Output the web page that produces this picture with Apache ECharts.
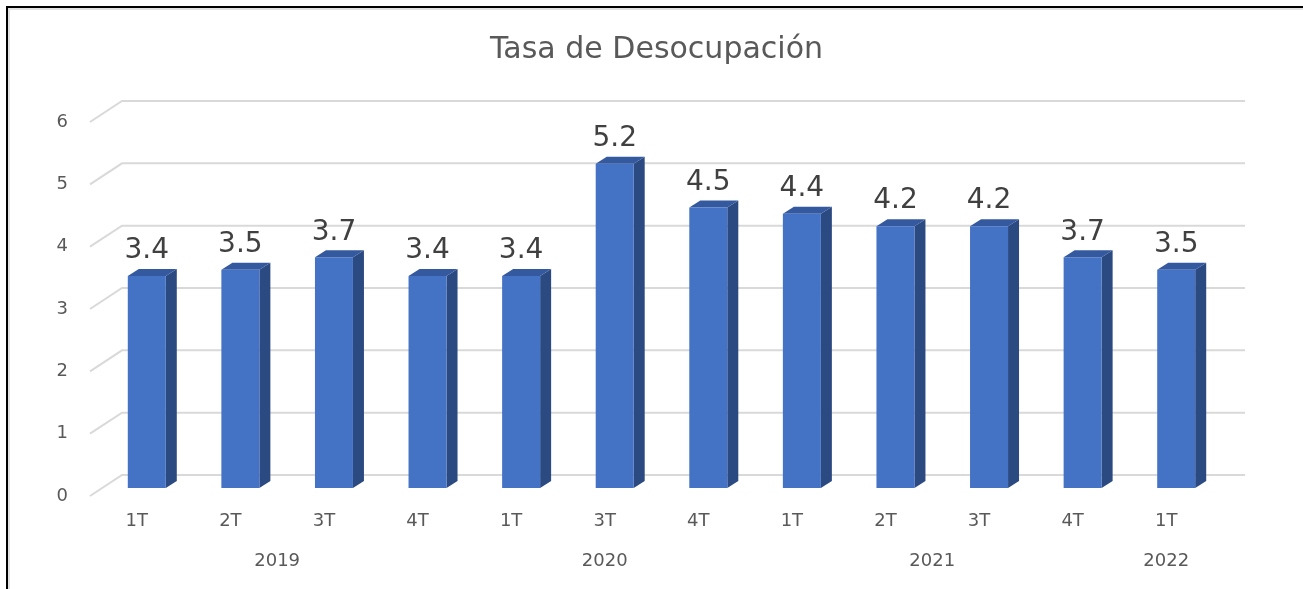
<!DOCTYPE html>
<html><head><meta charset="utf-8">
<script src="https://cdn.jsdelivr.net/npm/echarts@6/dist/echarts.min.js"></script>
<style>
html,body{margin:0;padding:0;background:#fff;}
#c{position:absolute;left:0;top:0;width:1303px;height:589px;}
#frame{position:absolute;left:6px;top:6px;width:1297px;height:583px;border-top:2px solid #000;border-left:2px solid #000;box-shadow:inset 2px 2px 0 #e2e2e2;pointer-events:none;box-sizing:border-box;}
</style></head>
<body><div id="c"></div><div id="frame"></div>
<script>
const quarters = ['1T','2T','3T','4T','1T','3T','4T','1T','2T','3T','4T','1T'];
const years    = ['2019','2019','2019','2019','2020','2020','2020','2021','2021','2021','2021','2022'];
const values   = [3.4, 3.5, 3.7, 3.4, 3.4, 5.2, 4.5, 4.4, 4.2, 4.2, 3.7, 3.5];
const yTicks   = [0, 1, 2, 3, 4, 5, 6];

// build year axis slots (2 slots per category, boundaryGap false)
const yearSlots = new Array(quarters.length * 2 + 1).fill('');
const seen = {};
years.forEach((y, i) => { if (!(y in seen)) seen[y] = [i, i]; else seen[y][1] = i; });
Object.keys(seen).forEach(y => { const [a, b] = seen[y]; yearSlots[a + b + 1] = y; });

const FONT = 'DejaVu Sans';
const DX = 32, DY = 21;           // full depth of the floor
const FX = 10, FY = 8;            // depth of bar front face
const SX = 11, SY = 7;            // bar depth

const chart = echarts.init(document.getElementById('c'), null, {renderer: 'canvas'});
chart.setOption({
  animation: false,
  backgroundColor: '#fff',
  title: {
    text: 'Tasa de Desocupación', left: 490, top: 35, padding: 0,
    textStyle: {fontFamily: FONT, fontSize: 30, fontWeight: 'normal', color: '#595959'}
  },
  grid: {left: 90, right: 90, top: 122, bottom: 93},
  xAxis: [{
    type: 'category', data: quarters, position: 'bottom',
    axisLine: {show: false}, axisTick: {show: false},
    axisLabel: {margin: 16, fontFamily: FONT, fontSize: 18, color: '#595959', interval: 0}
  }, {
    type: 'category', data: yearSlots, position: 'bottom', offset: 40, boundaryGap: false,
    axisLine: {show: false}, axisTick: {show: false},
    axisLabel: {margin: 16, fontFamily: FONT, fontSize: 18, color: '#595959', interval: 0, showMinLabel: true, showMaxLabel: true}
  }],
  yAxis: {
    type: 'value', min: 0, max: 6, interval: 1,
    axisLine: {show: false}, axisTick: {show: false}, splitLine: {show: false},
    axisLabel: {margin: 22, fontFamily: FONT, fontSize: 18, color: '#595959'}
  },
  series: [{
    type: 'custom', silent: true, z: 1,
    data: yTicks.map(v => [0, v]),
    renderItem: function (params, api) {
      const cs = params.coordSys;
      const y = api.coord([0, api.value(1)])[1];
      return {
        type: 'polyline',
        shape: {points: [[cs.x, y], [cs.x + DX, y - DY], [cs.x + cs.width + DX, y - DY]]},
        style: {stroke: '#d9d9d9', lineWidth: 2, fill: null}
      };
    }
  }, {
    type: 'custom', z: 5,
    data: values.map((v, i) => [i, v]),
    renderItem: function (params, api) {
      const i = api.value(0), v = api.value(1);
      const pt = api.coord([i, v]);
      const p0 = api.coord([i, 0]);
      const fw = 38;
      const x0 = pt[0] + FX - fw / 2, x1 = x0 + fw;
      const top = pt[1] - FY, bot = p0[1] - FY;
      return {
        type: 'group',
        children: [
          {type: 'polygon', shape: {points: [[x1, bot], [x1 + SX, bot - SY], [x1 + SX, top - SY], [x1, top]]},
           style: {fill: '#2c4a82'}},
          {type: 'polygon', shape: {points: [[x0, top], [x1, top], [x1 + SX, top - SY], [x0 + SX, top - SY]]},
           style: {fill: '#34599e'}},
          {type: 'rect', shape: {x: x0, y: top, width: fw, height: bot - top},
           style: {fill: '#4472c4'}},
          {type: 'text', style: {text: String(v), x: x0 + fw / 2, y: top - 25, align: 'center', verticalAlign: 'middle',
            font: '28px "' + FONT + '"', fill: '#404040'}}
        ]
      };
    }
  }]
});
</script>
</body></html>
